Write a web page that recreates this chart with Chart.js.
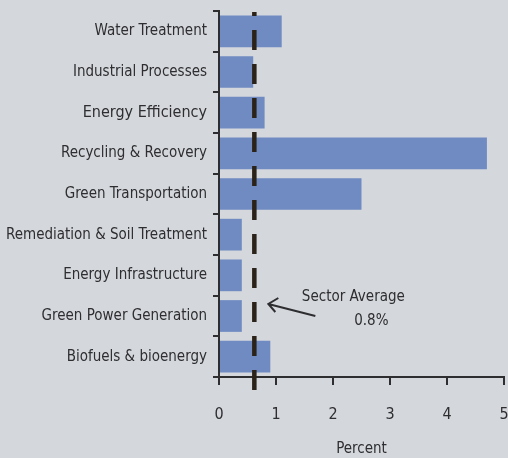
<!DOCTYPE html>
<html>
<head>
<meta charset="utf-8">
<script src="https://cdn.jsdelivr.net/npm/chart.js@4/dist/chart.umd.min.js"></script>
<style>
  body { margin: 0; background: #d4d7dc; }
  #wrap { width: 508px; height: 458px; }
</style>
</head>
<body>
<div id="wrap"><canvas id="sectors" width="508" height="458"></canvas></div>
<script>
// Categories along the y-axis
var sectors = ["Water Treatment", "Industrial Processes", "Energy Efficiency",
  "Recycling & Recovery", "Green Transportation", "Remediation & Soil Treatment",
  "Energy Infrastructure", "Green Power Generation", "Biofuels & bioenergy"];
// Percent values
var percent = [1.1, 0.6, 0.8, 4.7, 2.5, 0.4, 0.4, 0.4, 0.9];
// x-axis ticks
var xTicks = [0, 1, 2, 3, 4, 5];
// where the dashed average line sits in the picture
var averageLine = 0.62;
var averageText = ["Sector Average", "0.8%"];

var fontFamily = "'Liberation Sans Narrow', 'DejaVu Sans Condensed', sans-serif";
var textColor = "#2e2e30";

var averagePlugin = {
  id: "average",
  beforeDraw: function (chart) {
    var c = chart.ctx;
    c.save();
    c.fillStyle = "#d4d7dc";
    c.fillRect(0, 0, chart.width, chart.height);
    c.restore();
  },
  afterDatasetsDraw: function (chart) {
    var c = chart.ctx;
    var x = chart.scales.x.getPixelForValue(averageLine);
    var y = chart.scales.y;
    c.save();
    c.strokeStyle = "#2b2319";
    c.lineWidth = 4.5;
    c.setLineDash([20, 14]);
    c.lineDashOffset = 16;
    c.beginPath();
    c.moveTo(x, y.top + 1);
    c.lineTo(x, y.bottom + 13);
    c.stroke();
    c.setLineDash([]);

    // arrow pointing at the line
    var tipX = x + 14, tipY = chart.scales.y.getPixelForValue(7) - 12;
    var tailX = tipX + 47, tailY = tipY + 12;
    c.strokeStyle = "#2e2e30";
    c.lineWidth = 2;
    c.beginPath();
    c.moveTo(tailX, tailY);
    c.lineTo(tipX, tipY);
    c.moveTo(tipX + 10, tipY - 6);
    c.lineTo(tipX, tipY);
    c.lineTo(tipX + 7, tipY + 8);
    c.stroke();

    c.fillStyle = textColor;
    c.font = "15px " + fontFamily;
    c.textAlign = "center";
    c.textBaseline = "middle";
    c.fillText(averageText[0], tailX + 38, tipY - 7);
    c.fillText(averageText[1], tailX + 56, tipY + 17);
    c.restore();
  }
};

var ctx = document.getElementById("sectors");
var chart = new Chart(ctx, {
  type: "bar",
  data: {
    labels: sectors,
    datasets: [
      {
        data: percent,
        backgroundColor: "#6f8bc2",
        barPercentage: 0.78,
        categoryPercentage: 1
      }
    ]
  },
  options: {
    indexAxis: "y",
    responsive: false,
    animation: false,
    layout: { padding: { top: 11, right: 4, left: 0, bottom: 0 } },
    plugins: {
      legend: { display: false },
      tooltip: { enabled: false }
    },
    scales: {
      x: {
        min: 0,
        max: 5,
        afterBuildTicks: function (axis) {
          axis.ticks = xTicks.map(function (v) { return { value: v }; });
        },
        afterFit: function (axis) {
          axis.height = 81;
          axis.paddingLeft = 0;
          axis.paddingRight = 0;
        },
        border: { color: "#2e2e30", width: 2 },
        grid: { drawOnChartArea: false, color: "#2e2e30", lineWidth: 2, tickLength: 8 },
        ticks: { color: textColor, padding: 20, maxRotation: 0, font: { family: fontFamily, size: 16 } },
        title: {
          display: true,
          text: "Percent",
          color: textColor,
          padding: { top: 10, bottom: 0 },
          font: { family: fontFamily, size: 15 }
        }
      },
      y: {
        afterFit: function (axis) {
          axis.width = 219;
          axis.paddingTop = 0;
          axis.paddingBottom = 0;
        },
        border: { color: "#2e2e30", width: 2 },
        grid: { offset: true, drawOnChartArea: false, color: "#2e2e30", lineWidth: 2, tickLength: 6 },
        ticks: {
          color: textColor,
          padding: 6,
          font: function (context) {
            return { family: fontFamily, size: context.index === 2 ? 16 : 15 };
          }
        }
      }
    }
  },
  plugins: [averagePlugin]
});
</script>
</body>
</html>
